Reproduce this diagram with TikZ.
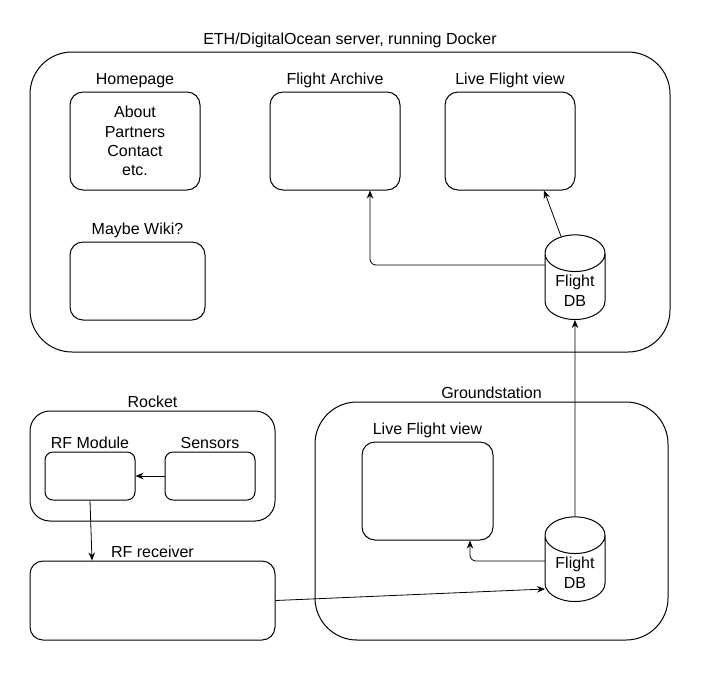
\documentclass[tikz,border=0pt]{standalone}
\usepackage{fontspec}
\setmainfont{Liberation Sans}
\usetikzlibrary{shapes.geometric,arrows.meta,positioning,calc}

\tikzset{
  box/.style={draw, line width=1pt, rounded corners=13pt, minimum width=130pt, minimum height=98pt, align=center},
  group/.style={draw, line width=1pt, rounded corners=42pt},
  lbl/.style={inner sep=2pt},
  db/.style={draw, line width=1pt, cylinder, shape border rotate=90, aspect=0.8, minimum width=60pt, minimum height=63pt, align=center, anchor=south},
  link/.style={line width=0.8pt, -{Stealth[length=8pt,width=6.5pt]}}
}

\begin{document}
\begin{tikzpicture}[x=1pt, y=-1pt, font=\fontsize{16}{19.3}\selectfont]
    \useasboundingbox (0,0) rectangle (701,673);

    % Server
    \node[group, minimum width=640pt, minimum height=300pt] (server) at (350,202) {};
    \node[lbl, above=1pt of server] (serverlbl) {ETH/DigitalOcean server, running Docker};

    \node[box] (home) at (135,141) {About\\Partners\\Contact\\etc.};
    \node[lbl, above=1pt of home] (homelbl) {Homepage};

    \node[box] (archive) at (335,141) {};
    \node[lbl, above=1pt of archive] (archivelbl) {Flight Archive};

    \node[box] (live) at (510,141) {};
    \node[lbl, above=1pt of live] (livelbl) {Live Flight view};

    \node[box, minimum width=135pt, minimum height=78pt] (wiki) at (137.5,281) {};
    \node[lbl, above=1pt of wiki] (wikilbl) {Maybe Wiki?};

    \node[db] (db) at (575,320) {Flight\\DB};

    % Groundstation
    \node[group, minimum width=353pt, minimum height=238pt] (ground) at (491.5,521) {};
    \node[lbl, above=1pt of ground] (groundlbl) {Groundstation};

    \node[box, minimum width=131pt] (glive) at (427.5,491) {};
    \node[lbl, above=1pt of glive] (glivelbl) {Live Flight view};

    \node[db] (gdb) at (575,602) {Flight\\DB};

    % Rocket
    \node[group, rounded corners=20pt, minimum width=245pt, minimum height=110pt] (rocket) at (152.5,466) {};
    \node[lbl, above=1pt of rocket] (rocketlbl) {Rocket};

    \node[box, rounded corners=8pt, minimum width=90pt, minimum height=48pt] (rfmod) at (90,476) {};
    \node[lbl, above=1pt of rfmod] (rfmodlbl) {RF Module};

    \node[box, rounded corners=8pt, minimum width=90pt, minimum height=48pt] (sensors) at (210,476) {};
    \node[lbl, above=1pt of sensors] (sensorslbl) {Sensors};

    % Receiver
    \node[box, minimum width=245pt, minimum height=79pt] (recv) at (152.5,600.5) {};
    \node[lbl, above=1pt of recv] (recvlbl) {RF receiver};

    % Connections
    \coordinate (gdbin) at (545,589);
    \coordinate (gdbout) at (545,561);
    \coordinate (dbout) at (545,265);
    \draw[link] (sensors.west) -- (rfmod.east);
    \draw[link] (rfmod.south) -- ($(recv.north)+(-60.5,0)$);
    \draw[link] (recv.east) -- (gdbin);
    \draw[link, rounded corners=6pt] (gdbout) -| ($(glive.south)+(42.5,0)$);
    \draw[link] (gdb.north) -- (db.south);
    \draw[link, rounded corners=6pt] (dbout) -| ($(archive.south)+(35,0)$);
    \draw[link] ($(db.north)+(-14,2)$) -- ($(live.south)+(34,0)$);
\end{tikzpicture}
\end{document}
